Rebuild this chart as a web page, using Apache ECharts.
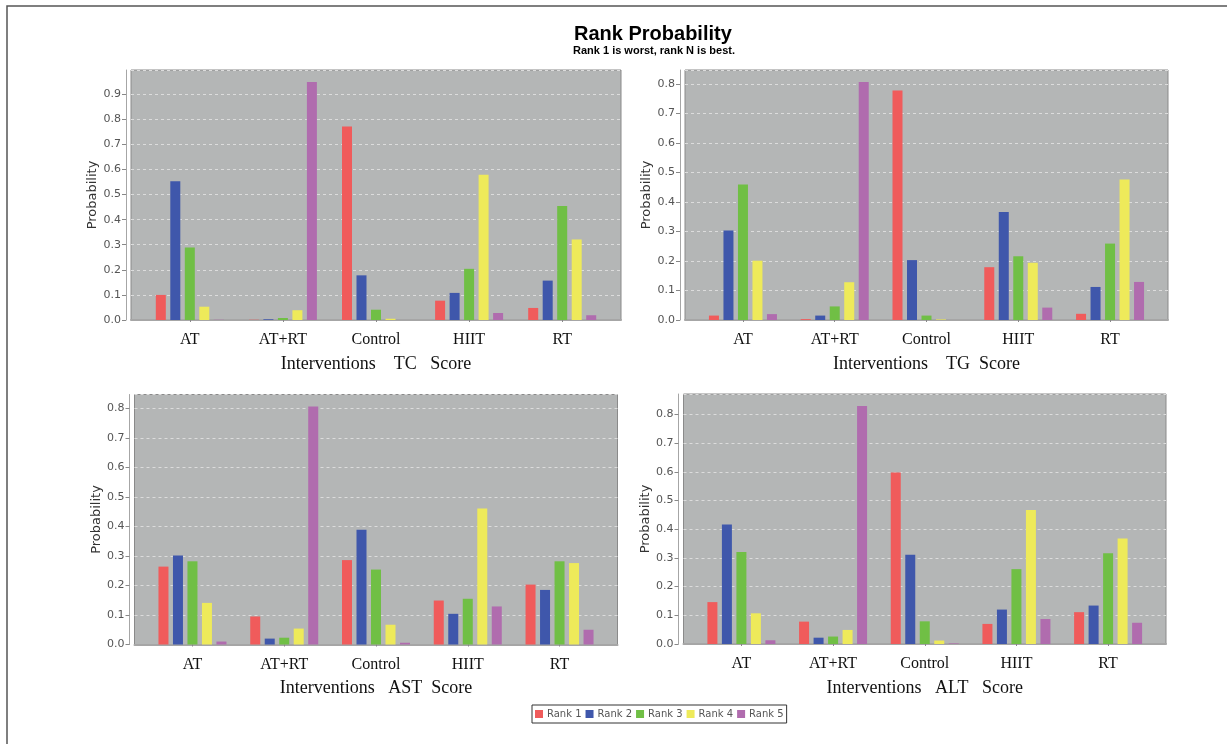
<!DOCTYPE html>
<html>
<head>
<meta charset="utf-8">
<script src="https://cdn.jsdelivr.net/npm/echarts@6/dist/echarts.min.js"></script>
<style>
html,body{margin:0;padding:0;background:#fff;}
#chart{width:1227px;height:744px;}
</style>
</head>
<body>
<div id="chart"></div>
<script>
// ---------- DATA ----------
const categories = ['AT', 'AT+RT', 'Control', 'HIIT', 'RT'];
const rankNames = ['Rank 1', 'Rank 2', 'Rank 3', 'Rank 4', 'Rank 5'];
const titleText = 'Rank Probability';
const subtitleText = 'Rank 1 is worst, rank N is best.';
const yAxisName = 'Probability';

// values per rank, ordered as categories
const tcRank1 = [0.100, 0.001, 0.771, 0.077, 0.048];
const tcRank2 = [0.553, 0.003, 0.178, 0.108, 0.157];
const tcRank3 = [0.289, 0.008, 0.041, 0.204, 0.454];
const tcRank4 = [0.053, 0.039, 0.005, 0.579, 0.321];
const tcRank5 = [0.001, 0.949, 0.000, 0.028, 0.019];

const tgRank1 = [0.015, 0.003, 0.778, 0.179, 0.021];
const tgRank2 = [0.303, 0.015, 0.203, 0.366, 0.112];
const tgRank3 = [0.459, 0.046, 0.015, 0.216, 0.259];
const tgRank4 = [0.201, 0.128, 0.002, 0.194, 0.476];
const tgRank5 = [0.020, 0.807, 0.000, 0.042, 0.129];

const astRank1 = [0.264, 0.095, 0.286, 0.149, 0.203];
const astRank2 = [0.302, 0.020, 0.389, 0.104, 0.185];
const astRank3 = [0.282, 0.023, 0.254, 0.155, 0.282];
const astRank4 = [0.141, 0.054, 0.067, 0.461, 0.276];
const astRank5 = [0.010, 0.807, 0.006, 0.129, 0.050];

const altRank1 = [0.146, 0.078, 0.598, 0.070, 0.111];
const altRank2 = [0.417, 0.022, 0.311, 0.120, 0.134];
const altRank3 = [0.321, 0.026, 0.079, 0.261, 0.316];
const altRank4 = [0.107, 0.049, 0.012, 0.467, 0.368];
const altRank5 = [0.013, 0.830, 0.002, 0.087, 0.074];

const tcName = 'Interventions    TC   Score';
const tgName = 'Interventions    TG  Score';
const astName = 'Interventions   AST  Score';
const altName = 'Interventions   ALT   Score';

// ---------- LAYOUT / STYLE ----------
const rankColors = ['#f05b5b', '#3f57ab', '#70bf45', '#eeea5a', '#b06cae'];
const panels = [
  {name: tcName,  ranks: [tcRank1, tcRank2, tcRank3, tcRank4, tcRank5],      L: 131,   W: 490,   T: 70},
  {name: tgName,  ranks: [tgRank1, tgRank2, tgRank3, tgRank4, tgRank5],      L: 685,   W: 483,   T: 70},
  {name: astName, ranks: [astRank1, astRank2, astRank3, astRank4, astRank5], L: 134.5, W: 483,   T: 394.5},
  {name: altName, ranks: [altRank1, altRank2, altRank3, altRank4, altRank5], L: 683.5, W: 482.5, T: 394}
];
const H = 250;

const grid = [], xAxis = [], yAxis = [], series = [];
panels.forEach((p, i) => {
  const maxV = Math.max(...p.ranks.flat()) * 1.05;
  // background (plot frame) grid
  grid.push({left: p.L, top: p.T, width: p.W, height: H, show: true,
    backgroundColor: '#b4b6b6', borderColor: '#8a8a8a', borderWidth: 1});
  // inner grid for category bands
  grid.push({left: p.L + 0.025 * p.W, top: p.T, width: 0.95 * p.W, height: H, show: false});

  xAxis.push({gridIndex: 2 * i, type: 'category', data: categories, offset: 4,
    axisLine: {show: true, lineStyle: {color: '#a6a6a6', width: 2}},
    axisTick: {show: false}, axisLabel: {show: false}, splitLine: {show: false}});
  xAxis.push({gridIndex: 2 * i + 1, type: 'category', data: categories, offset: 4,
    axisLine: {show: false},
    axisTick: {show: true, alignWithLabel: true, length: 2, lineStyle: {color: '#888'}},
    axisLabel: {margin: 8, fontFamily: 'Liberation Serif', fontSize: 16, color: '#111'},
    name: p.name, nameLocation: 'middle', nameGap: 31,
    nameTextStyle: {fontFamily: 'Liberation Serif', fontSize: 18, color: '#111'}});

  yAxis.push({gridIndex: 2 * i, type: 'value', min: 0, max: maxV, interval: 0.1, offset: 5,
    axisLine: {show: true, lineStyle: {color: '#a6a6a6', width: 1}},
    axisTick: {show: true, length: 4, lineStyle: {color: '#888'}},
    axisLabel: {margin: 5, fontFamily: 'DejaVu Sans', fontSize: 11, color: '#555',
      showMaxLabel: false, formatter: v => v.toFixed(1)},
    splitLine: {show: true, lineStyle: {color: '#dcdcdc', width: 1, type: [3, 3]}},
    name: yAxisName, nameLocation: 'middle', nameRotate: 90, nameGap: 24,
    nameTextStyle: {fontFamily: 'DejaVu Sans', fontSize: 13, color: '#333'}});
  yAxis.push({gridIndex: 2 * i + 1, type: 'value', min: 0, max: maxV, show: false,
    splitLine: {show: false}});

  p.ranks.forEach((vals, r) => {
    series.push({type: 'bar', name: rankNames[r], xAxisIndex: 2 * i + 1, yAxisIndex: 2 * i + 1,
      data: vals, barWidth: 10, barGap: '45%', itemStyle: {color: rankColors[r]}});
  });
});

const chart = echarts.init(document.getElementById('chart'), null, {renderer: 'canvas'});
chart.setOption({
  animation: false,
  backgroundColor: '#ffffff',
  title: [
    {text: titleText, left: 569, top: 19,
      textStyle: {fontFamily: 'Liberation Sans', fontWeight: 'bold', fontSize: 20, color: '#000'}},
    {text: subtitleText, left: 568, top: 40,
      textStyle: {fontFamily: 'Liberation Sans', fontWeight: 'bold', fontSize: 11, color: '#000'}}
  ],
  legend: {data: rankNames, left: 532, top: 705, orient: 'horizontal',
    borderColor: '#333', borderWidth: 1, padding: [4, 3, 4, 3],
    icon: 'rect', itemWidth: 8, itemHeight: 8, itemGap: 4,
    textStyle: {fontFamily: 'DejaVu Sans', fontSize: 10, color: '#555', padding: [0, 0, 0, -1]}},
  graphic: [{type: 'rect', silent: true, shape: {x: 7, y: 6, width: 1400, height: 900},
    style: {fill: 'none', stroke: '#555', lineWidth: 1.5}}],
  grid: grid, xAxis: xAxis, yAxis: yAxis, series: series
});
</script>
</body>
</html>
